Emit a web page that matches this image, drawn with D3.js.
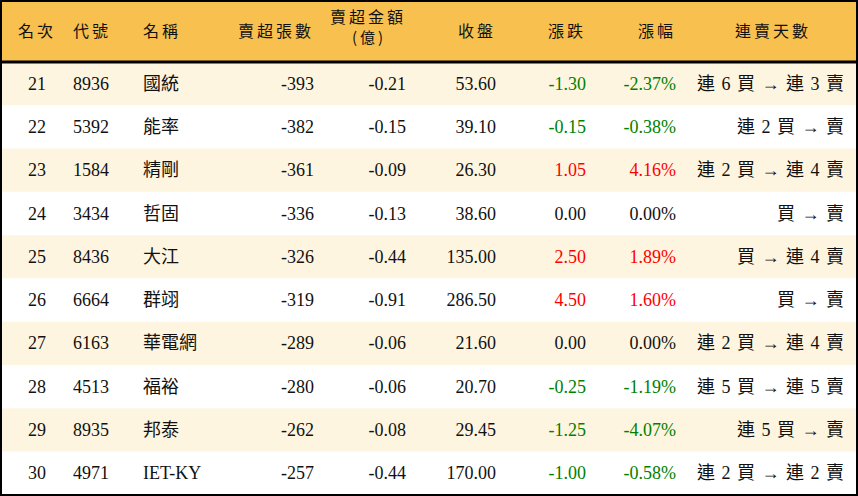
<!DOCTYPE html>
<html><head><meta charset="utf-8">
<script src="https://cdn.jsdelivr.net/npm/d3@7"></script>
<style>body{margin:0;background:#fff}</style></head>
<body><div id="chart"></div>
<script>
const ranks = [21,22,23,24,25,26,27,28,29,30];
const codes = ['8936','5392','1584','3434','8436','6664','6163','4513','8935','4971'];
const names = ['國統','能率','精剛','哲固','大江','群翊','華電網','福裕','邦泰','IET-KY'];
const sellLots = [-393,-382,-361,-336,-326,-319,-289,-280,-262,-257];
const sellAmt = ['-0.21','-0.15','-0.09','-0.13','-0.44','-0.91','-0.06','-0.06','-0.08','-0.44'];
const closes = ['53.60','39.10','26.30','38.60','135.00','286.50','21.60','20.70','29.45','170.00'];
const changes = ['-1.30','-0.15','1.05','0.00','2.50','4.50','0.00','-0.25','-1.25','-1.00'];
const pcts = ['-2.37%','-0.38%','4.16%','0.00%','1.89%','1.60%','0.00%','-1.19%','-4.07%','-0.58%'];
const streaks = ['連 6 買 → 連 3 賣','連 2 買 → 賣','連 2 買 → 連 4 賣','買 → 賣','買 → 連 4 賣','買 → 賣','連 2 買 → 連 4 賣','連 5 買 → 連 5 賣','連 5 買 → 賣','連 2 買 → 連 2 賣'];

const W = 858, H = 496, headH = 62;
const svg = d3.select('#chart').append('svg').attr('width', W).attr('height', H);
const y = d3.scaleBand().domain(d3.range(ranks.length)).range([headH, H - 1]);
const serif = "'Liberation Serif','Noto Sans CJK TC',serif";
const cjk = "'Noto Sans CJK TC',serif";

svg.append('rect').attr('width', W).attr('height', headH).attr('fill', '#f8c04f');
svg.selectAll('rect.row').data(ranks).enter().append('rect')
  .attr('x', 0).attr('y', (d, i) => y(i)).attr('width', W).attr('height', y.bandwidth())
  .attr('fill', (d, i) => i % 2 === 0 ? '#fef5e0' : '#fff');

// header
const heads = [
  {t: ['名次'], x: 37, a: 'middle'}, {t: ['代號'], x: 73, a: 'start'}, {t: ['名稱'], x: 143, a: 'start'},
  {t: ['賣超張數'], x: 314, a: 'end'}, {t: ['賣超金額', '(億)'], x: 406, a: 'end'},
  {t: ['收盤'], x: 496, a: 'end'}, {t: ['漲跌'], x: 586, a: 'end'}, {t: ['漲幅'], x: 676, a: 'end'},
  {t: ['連賣天數'], x: 773, a: 'middle'}
];
heads.forEach(h => {
  h.t.forEach((s, k) => {
    const yy = h.t.length === 1 ? 37 : 23 + k * 20;
    const sub = h.t.length > 1 && k == 1;
    svg.append('text').attr('x', sub ? h.x - 37 : h.x).attr('y', yy).attr('text-anchor', sub ? 'middle' : h.a)
      .style('font-family', cjk).style('font-size', sub ? '15px' : '16px').style('letter-spacing', '3px')
      .attr('fill', '#111').text(s);
  });
});

const color = v => +v > 0 ? '#ff0000' : (+v < 0 ? '#008000' : '#111');
const cols = [
  {v: ranks, x: 37, a: 'middle'}, {v: codes, x: 73, a: 'start'}, {v: names, x: 143, a: 'start'},
  {v: sellLots, x: 314, a: 'end'}, {v: sellAmt, x: 406, a: 'end'}, {v: closes, x: 496, a: 'end'},
  {v: changes, x: 586, a: 'end', c: true}, {v: pcts, x: 676, a: 'end', c: true},
  {v: streaks, x: 845, a: 'end', ls: '1px'}
];
cols.forEach(c => {
  svg.selectAll(null).data(c.v).enter().append('text')
    .attr('x', c.x).attr('y', (d, i) => y(i) + y.bandwidth() / 2 + 6)
    .attr('text-anchor', c.a)
    .style('font-family', serif).style('font-size', '18px')
    .style('letter-spacing', c.ls || null)
    .attr('fill', d => c.c ? color(parseFloat(d)) : '#111')
    .text(d => d);
});

svg.append('line').attr('x1', 0).attr('x2', W).attr('y1', headH).attr('y2', headH).attr('stroke', '#000').attr('stroke-width', 3);
svg.append('rect').attr('x', 1).attr('y', 1).attr('width', W - 2).attr('height', H - 2)
  .attr('fill', 'none').attr('stroke', '#000').attr('stroke-width', 2);
</script></body></html>
